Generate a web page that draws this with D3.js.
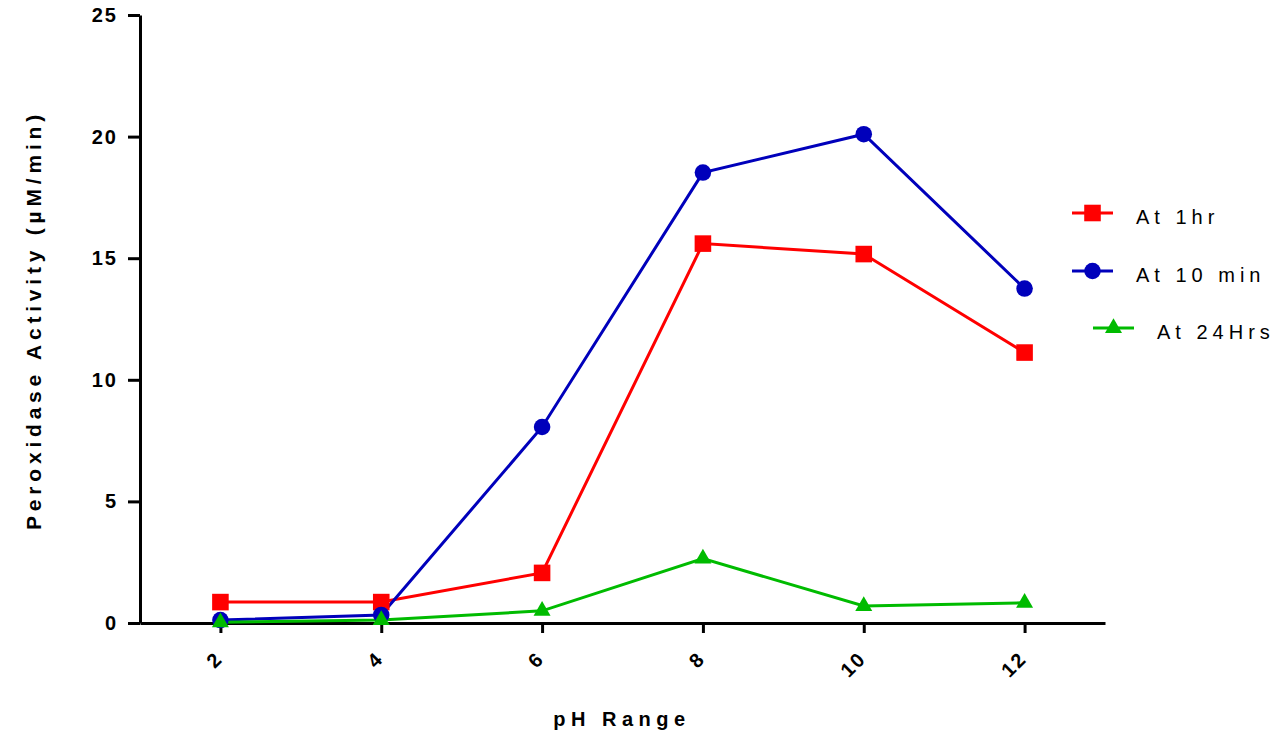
<!DOCTYPE html>
<html>
<head>
<meta charset="utf-8">
<script src="https://cdn.jsdelivr.net/npm/d3@7"></script>
<style>
  body { margin: 0; background: #fff; }
  text { font-family: "Liberation Sans", Arial, sans-serif; }
</style>
</head>
<body>
<script>
// data
var phValues = [2, 4, 6, 8, 10, 12];
var at1hr = [0.86, 0.86, 2.06, 15.6, 15.17, 11.12];
var at10min = [0.12, 0.33, 8.06, 18.52, 20.1, 13.75];
var at24hrs = [0.03, 0.12, 0.5, 2.65, 0.7, 0.83];
var yTicks = [0, 5, 10, 15, 20, 25];

var seriesNames = ["At 1hr", "At 10 min", "At 24Hrs"];
var seriesColors = ["#ff0000", "#0000bb", "#00bb00"];
var seriesShapes = [d3.symbolSquare, d3.symbolCircle, d3.symbolTriangle];
var seriesSizes = [275, 215, 125];
var seriesValues = [at1hr, at10min, at24hrs];

var width = 1280, height = 735;
var plotLeft = 140, plotRight = 1105, plotTop = 15, plotBottom = 623;

var svg = d3.select("body").append("svg")
    .attr("width", width)
    .attr("height", height);

var xScale = d3.scaleLinear().domain([1, 13]).range([plotLeft, plotRight]);
var yScale = d3.scaleLinear().domain([0, 25]).range([plotBottom, plotTop]);

// y axis
var yAxis = svg.append("g")
    .attr("transform", "translate(" + plotLeft + ",0)")
    .call(d3.axisLeft(yScale).tickValues(yTicks).tickSize(12).tickSizeOuter(0).tickPadding(10));
yAxis.select(".domain").attr("stroke-width", 3);
yAxis.selectAll(".tick line").attr("stroke-width", 3);
yAxis.selectAll("text")
    .style("font-size", "20px")
    .style("font-weight", "bold")
    .style("letter-spacing", "2px")
    .attr("fill", "#000");

// x axis
var xAxis = svg.append("g")
    .attr("transform", "translate(0," + plotBottom + ")")
    .call(d3.axisBottom(xScale).tickValues(phValues).tickSize(10).tickSizeOuter(0));
xAxis.select(".domain").attr("stroke-width", 3);
xAxis.selectAll(".tick line").attr("stroke-width", 3);
xAxis.selectAll("text")
    .style("font-size", "20px")
    .style("font-weight", "bold")
    .style("letter-spacing", "2px")
    .attr("fill", "#000")
    .attr("text-anchor", "end")
    .attr("dy", null)
    .attr("y", 0)
    .attr("transform", "translate(3,37) rotate(-45)");

// lines and markers
var line = d3.line()
    .x(function(d, i) { return xScale(phValues[i]); })
    .y(function(d) { return yScale(d); });

seriesValues.forEach(function(vals, s) {
    svg.append("path")
        .datum(vals)
        .attr("fill", "none")
        .attr("stroke", seriesColors[s])
        .attr("stroke-width", 3)
        .attr("d", line);
});
seriesValues.forEach(function(vals, s) {
    svg.selectAll(".pt" + s)
        .data(vals)
        .enter()
        .append("path")
        .attr("class", "pt" + s)
        .attr("d", d3.symbol().type(seriesShapes[s]).size(seriesSizes[s]))
        .attr("transform", function(d, i) {
            return "translate(" + xScale(phValues[i]) + "," + yScale(d) + ")";
        })
        .attr("fill", seriesColors[s]);
});

// legend
var legendX = [1072, 1072, 1093];
var legendY = [213, 271, 328];
seriesNames.forEach(function(name, s) {
    var g = svg.append("g").attr("transform", "translate(" + legendX[s] + "," + legendY[s] + ")");
    g.append("line")
        .attr("x1", 0).attr("x2", 41)
        .attr("stroke", seriesColors[s])
        .attr("stroke-width", 3);
    g.append("path")
        .attr("d", d3.symbol().type(seriesShapes[s]).size(seriesSizes[s]))
        .attr("transform", "translate(20.5,0)")
        .attr("fill", seriesColors[s]);
    g.append("text")
        .attr("x", 64)
        .attr("y", 11)
        .style("font-size", "20px")
        .style("letter-spacing", "5px")
        .text(name);
});

// axis titles
svg.append("text")
    .attr("transform", "translate(41," + 320 + ") rotate(-90)")
    .attr("text-anchor", "middle")
    .style("font-size", "21px")
    .style("font-weight", "bold")
    .style("letter-spacing", "4.8px")
    .text("Peroxidase Activity (µM/min)");

svg.append("text")
    .attr("x", 622)
    .attr("y", 726)
    .attr("text-anchor", "middle")
    .style("font-size", "20px")
    .style("font-weight", "bold")
    .style("letter-spacing", "5.5px")
    .text("pH Range");
</script>
</body>
</html>
